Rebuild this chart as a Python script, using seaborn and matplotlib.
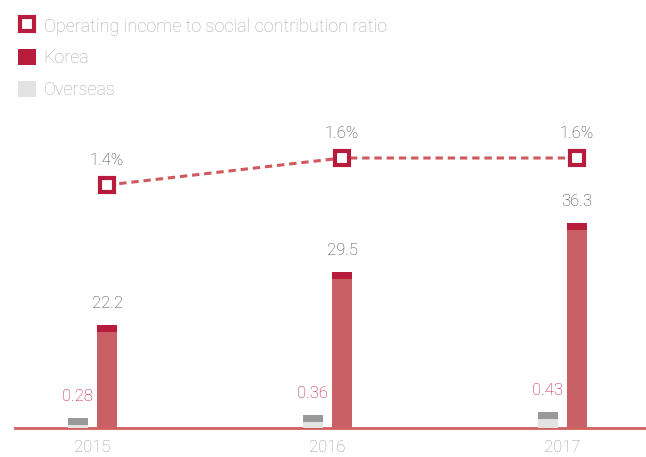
import numpy as np
import matplotlib
matplotlib.use("Agg")
import matplotlib.pyplot as plt
from matplotlib.lines import Line2D
from matplotlib.patches import Patch
import seaborn as sns

# data
years = ["2015", "2016", "2017"]
korea = [22.2, 29.5, 36.3]
overseas = [0.28, 0.36, 0.43]
ratio = [1.4, 1.6, 1.6]

sns.set_theme(style="white")
plt.rcParams["font.family"] = ["Roboto", "DejaVu Sans"]

KOREA_LIGHT = "#c96065"
KOREA_DARK = "#b71c3c"
OS_LIGHT = "#e3e3e3"
OS_DARK = "#999999"
LINE_C = "#d0585f"

W, H = 646, 457
fig = plt.figure(figsize=(W / 100, H / 100), dpi=100)
ax = fig.add_axes([15 / W, 29 / H, 631 / W, 328 / H])
ax2 = ax.twinx()
ax3 = ax.twinx()

x = np.arange(len(years))
bw = 0.085
off = 0.062

# korea bars (axis starts above zero, as in the original)
k_px = 7.23
ax.set_ylim(7.95, 7.95 + 328 / k_px)
cap_k = 7 / k_px
ax.bar(x + off, korea, width=bw, bottom=0, color=KOREA_LIGHT, lw=0, zorder=2)
ax.bar(x + off, [cap_k] * 3, width=bw, bottom=np.array(korea) - cap_k, color=KOREA_DARK, lw=0, zorder=3)
for xi, v in zip(x, korea):
    ax.annotate(f"{v}", (xi + off, v), xytext=(0, 10), textcoords="offset points",
                ha="center", va="bottom", fontsize=12, color="#444444", fontweight="light")

# overseas bars
o_px = 37
ax2.set_ylim(0, 328 / o_px)
cap_o = 7 / o_px
ax2.bar(x - off, overseas, width=bw, color=OS_LIGHT, lw=0, zorder=2)
ax2.bar(x - off, [cap_o] * 3, width=bw, bottom=np.array(overseas) - cap_o, color=OS_DARK, lw=0, zorder=3)
for xi, v in zip(x, overseas):
    ax2.annotate(f"{v}", (xi - off, v), xytext=(0, 10), textcoords="offset points",
                 ha="center", va="bottom", fontsize=12, color="#c0173f", fontweight="light")

# ratio line
r_px = 135
ax3.set_ylim(1.4 - 243 / r_px, 1.4 - 243 / r_px + 328 / r_px)
sns.lineplot(x=x + off, y=ratio, ax=ax3, color=LINE_C, lw=2.2, zorder=4)
ax3.lines[0].set_linestyle((0, (2.4, 1.6)))
ax3.plot(x + off, ratio, ls="none", marker="s", ms=10, mew=3, mec=KOREA_DARK, mfc="white", zorder=5)
for xi, v in zip(x, ratio):
    ax3.annotate(f"{v}%", (xi + off, v), xytext=(0, 12), textcoords="offset points",
                 ha="center", va="bottom", fontsize=12, color="#444444", fontweight="light")

ax.set_xlim(-77.5 / 235, 553.5 / 235)
ax.set_xticks(x)
ax.set_xticklabels(years, fontsize=12, color="#999999", fontweight="light")
ax.tick_params(axis="x", length=0, pad=9)
ax.set_yticks([])
for a in (ax2, ax3):
    a.set_yticks([])
    for s in a.spines.values():
        s.set_visible(False)
for s in ["left", "right", "top"]:
    ax.spines[s].set_visible(False)
ax.spines["bottom"].set_color("#d06060")
ax.spines["bottom"].set_linewidth(2)

handles = [
    Line2D([], [], ls="none", marker="s", ms=10, mew=3, mec=KOREA_DARK, mfc="white"),
    Patch(facecolor=KOREA_DARK, lw=0),
    Patch(facecolor=OS_LIGHT, lw=0),
]
labels = ["Operating income to social contribution ratio", "Korea", "Overseas"]
leg = fig.legend(handles, labels, loc="upper left", bbox_to_anchor=(2 / W, 1 - 1 / H),
                 frameon=False, handlelength=1.0, handleheight=1.0, handletextpad=0.4,
                 labelspacing=0.75, prop={"size": 13, "weight": "light"})
for t in leg.get_texts():
    t.set_color("#aaaaaa")

fig.savefig("out.png", dpi=100)
